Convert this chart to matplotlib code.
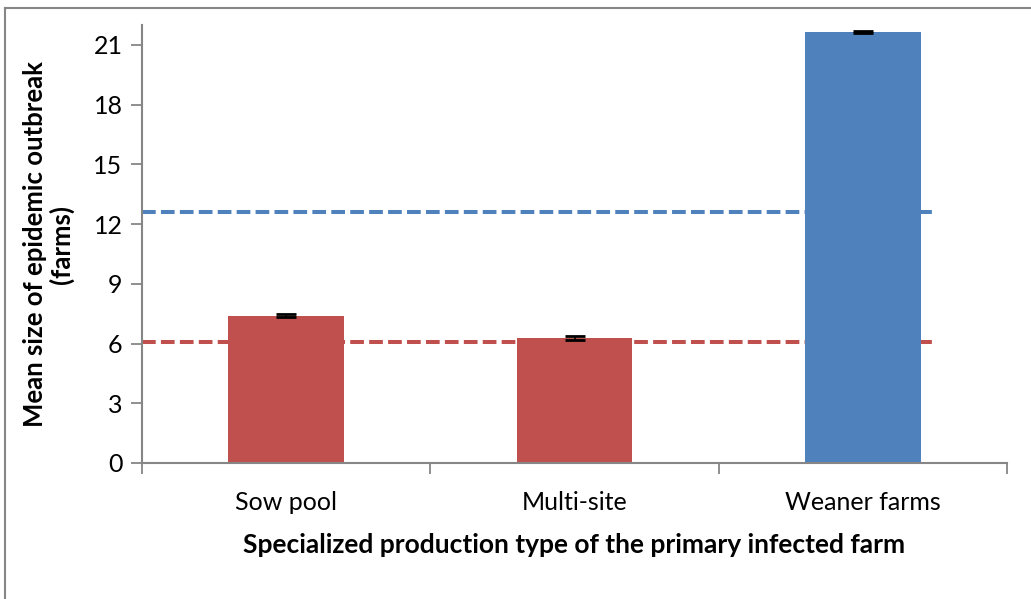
import matplotlib
matplotlib.use("Agg")
import matplotlib.pyplot as plt
from matplotlib.lines import Line2D

# data
categories = ["Sow pool", "Multi-site", "Weaner farms"]
means = [7.4, 6.3, 21.65]
errors = [0.08, 0.1, 0.05]
bar_colors = ["#C0504D", "#C0504D", "#4F81BD"]
ref_blue = 12.6
ref_red = 6.1
yticks = [0, 3, 6, 9, 12, 15, 18, 21]

plt.rcParams['font.family'] = ['Lato', 'DejaVu Sans']

fig = plt.figure(figsize=(10.31, 5.99), dpi=100, facecolor='white')
ax = fig.add_axes([142 / 1031, 1 - 463 / 599, (1007 - 142) / 1031, (463 - 25) / 599])

x = list(range(len(categories)))
ax.bar(x, means, width=0.4, color=bar_colors, zorder=2)
ax.errorbar(x, means, yerr=errors, fmt='none', ecolor='black', elinewidth=1.2,
            capsize=7, capthick=2, zorder=3)

# reference lines
ax.plot([-0.5, 2.25], [ref_blue, ref_blue], color='#4F81BD', lw=2.9,
        dashes=(3.4, 1.3), zorder=1)
ax.plot([-0.5, 2.25], [ref_red, ref_red], color='#C0504D', lw=2.9,
        dashes=(3.4, 1.3), zorder=1)

ax.set_xlim(-0.5, 2.5)
ax.set_ylim(0, 22)
ax.set_yticks(yticks)
ax.set_xticks(x)
ax.set_xticklabels(categories, fontsize=18)
ax.set_xticks([-0.5, 0.5, 1.5, 2.5], minor=True)
ax.tick_params(axis='x', which='major', length=0, pad=20)
ax.tick_params(axis='x', which='minor', length=8, width=1.3, color='#868686')
ax.tick_params(axis='y', length=8, width=1.3, color='#868686', labelsize=18, pad=6)

for side in ['top', 'right']:
    ax.spines[side].set_visible(False)
for side in ['left', 'bottom']:
    ax.spines[side].set_color('#868686')
    ax.spines[side].set_linewidth(1.5)

ax.set_ylabel("Mean size of epidemic outbreak\n(farms)", fontsize=18.5,
              fontweight='bold', labelpad=14, linespacing=1.1)
ax.set_xlabel("Specialized production type of the primary infected farm",
              fontsize=19, fontweight='bold', labelpad=14)

# chart-area border (left and top edges visible)
fig.add_artist(Line2D([5 / 1031, 5 / 1031], [0, 1 - 8 / 599], transform=fig.transFigure,
                      color='#868686', lw=1.5))
fig.add_artist(Line2D([5 / 1031, 1], [1 - 8 / 599, 1 - 8 / 599], transform=fig.transFigure,
                      color='#868686', lw=1.5))

fig.savefig("out.png", dpi=100, facecolor='white')
